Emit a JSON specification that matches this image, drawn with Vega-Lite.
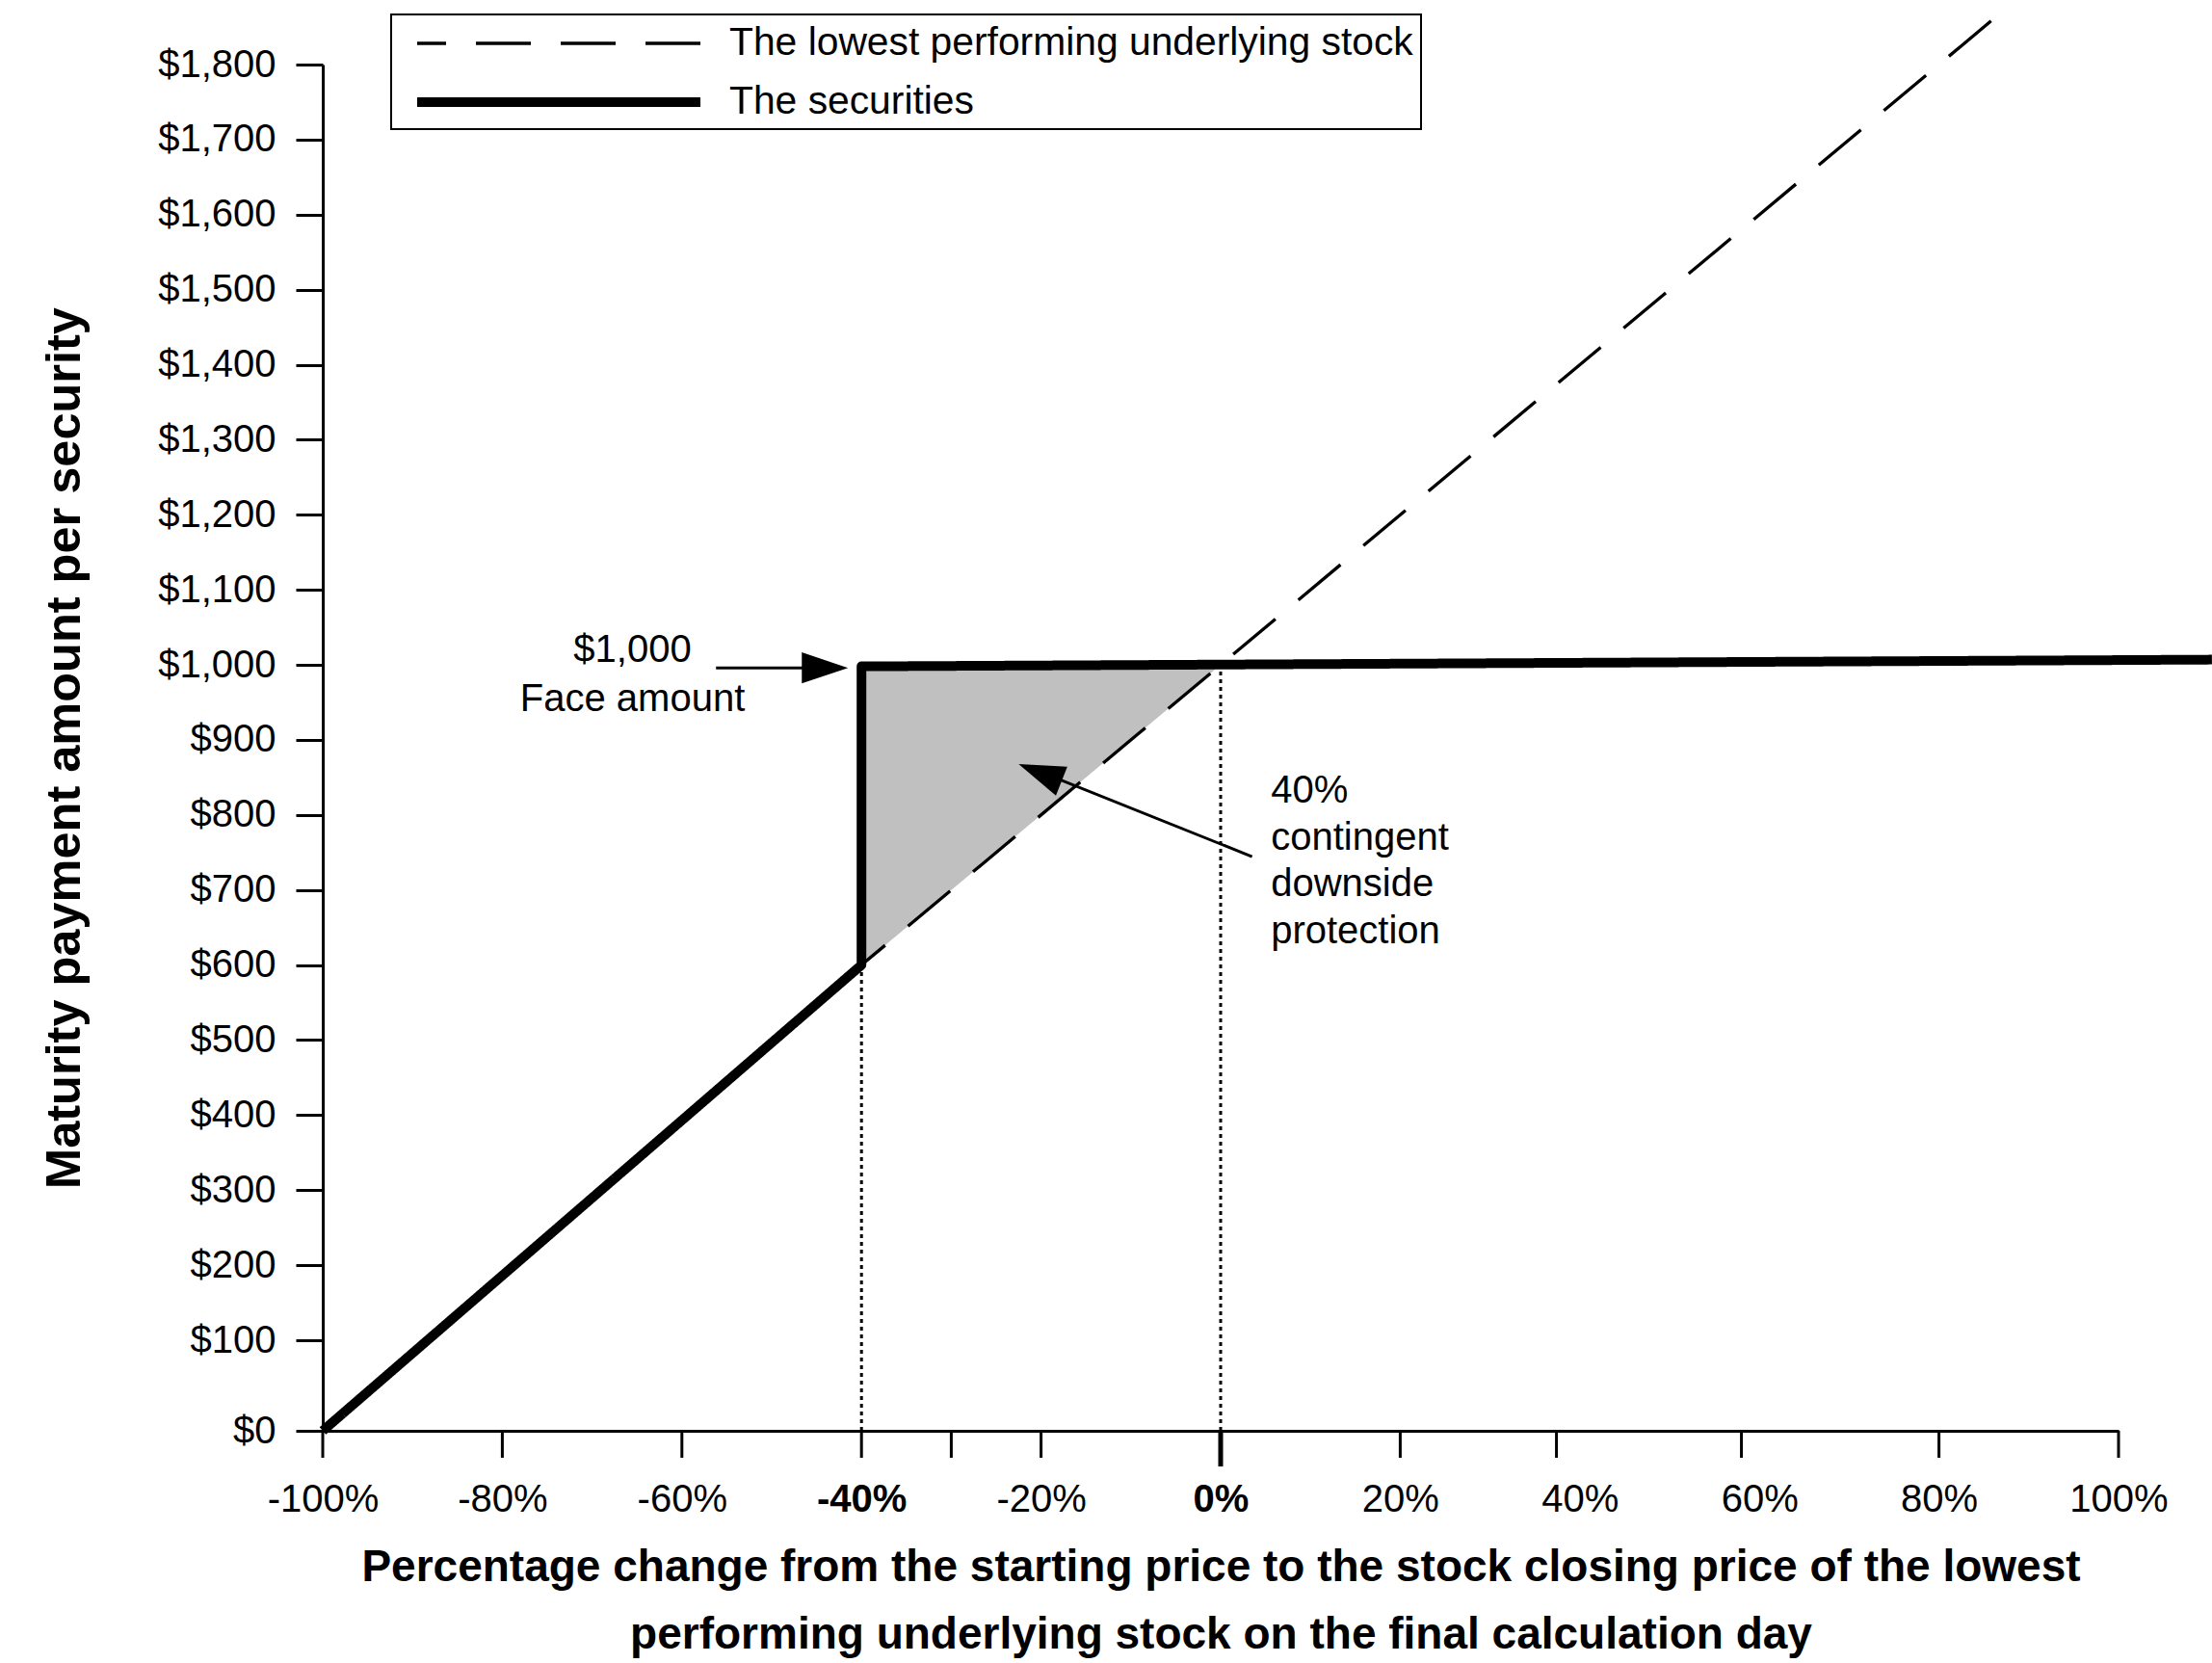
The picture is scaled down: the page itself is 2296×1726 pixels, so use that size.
{
  "$schema": "https://vega.github.io/schema/vega-lite/v6.json",
  "width": 1864,
  "height": 1418,
  "autosize": {"type": "none"},
  "padding": {"left": 335, "top": 67, "right": 97, "bottom": 241},
  "background": "white",
  "config": {
    "view": {"stroke": null},
    "font": "Liberation Sans",
    "axis": {"labelFont": "Liberation Sans", "titleFont": "Liberation Sans", "labelColor": "black", "titleColor": "black", "domainColor": "black", "tickColor": "black", "grid": false},
    "legend": {"labelFont": "Liberation Sans", "strokeWidth": 2}
  },
  "datasets": {
    "protection": [
      {"pct": -40, "value": 600, "value2": 998},
      {"pct": 0, "value": 1000, "value2": 1000}
    ],
    "guides": [
      {"pct": -40, "value": 0, "value2": 600},
      {"pct": 0, "value": 0, "value2": 1000}
    ],
    "lowest": [
      {"series": "The lowest performing underlying stock", "pct": -100, "value": 0, "seq": 1},
      {"series": "The lowest performing underlying stock", "pct": -40, "value": 600, "seq": 2},
      {"series": "The lowest performing underlying stock", "pct": 85.8, "value": 1858, "seq": 3}
    ],
    "securities": [
      {"series": "The securities", "pct": -100, "value": 0, "seq": 1},
      {"series": "The securities", "pct": -40, "value": 600, "seq": 2},
      {"series": "The securities", "pct": -40, "value": 998, "seq": 3},
      {"series": "The securities", "pct": 110.4, "value": 1007, "seq": 4}
    ],
    "xticks": [
      {"pct": -100, "value": 0}, {"pct": -80, "value": 0}, {"pct": -60, "value": 0}, {"pct": -40, "value": 0},
      {"pct": -30, "value": 0}, {"pct": -20, "value": 0}, {"pct": 20, "value": 0}, {"pct": 37.4, "value": 0},
      {"pct": 58, "value": 0}, {"pct": 80, "value": 0}, {"pct": 100, "value": 0}
    ],
    "zeroTick": [{"pct": 0, "value": 0}],
    "arrowLines": [
      {"pct": -56.2, "value": 996, "pct2": -44, "value2": 996},
      {"pct": 3.5, "value": 744.5, "pct2": -20, "value2": 857}
    ],
    "arrowHeads": [
      {"arrow": "face", "pct": -41.5, "value": 996},
      {"arrow": "protection", "pct": -22.5, "value": 867.8}
    ],
    "notes": [
      {"note": "face", "pct": -65.5, "value": 1004, "text": "$1,000"},
      {"note": "face", "pct": -65.5, "value": 938, "text": "Face amount"},
      {"note": "protection", "pct": 5.6, "value": 816, "text": "40%"},
      {"note": "protection", "pct": 5.6, "value": 753.5, "text": "contingent"},
      {"note": "protection", "pct": 5.6, "value": 692, "text": "downside"},
      {"note": "protection", "pct": 5.6, "value": 629, "text": "protection"}
    ]
  },
  "encoding": {
    "x": {
      "field": "pct",
      "type": "quantitative",
      "scale": {"domain": [-100, 100], "nice": false, "zero": false},
      "axis": {
        "values": [-100, -80, -60, -40, -20, 0, 20, 40, 60, 80, 100],
        "labelExpr": "datum.value + '%'",
        "labelFontSize": 40,
        "labelPadding": 23,
        "tickSize": 28,
        "tickOpacity": 0,
        "domainWidth": 3,
        "labelFlush": false,
        "labelOverlap": false,
        "labelFontWeight": {"condition": {"test": "datum.value === -40 || datum.value === 0", "value": "bold"}, "value": "normal"},
        "title": ["Percentage change from the starting price to the stock closing price of the lowest", "performing underlying stock on the final calculation day"],
        "titleFontSize": 46,
        "titleFontWeight": "bold",
        "titleAlign": "center",
        "titleBaseline": "alphabetic",
        "titleX": 932,
        "titleY": 155,
        "titleLineHeight": 70
      }
    },
    "y": {
      "field": "value",
      "type": "quantitative",
      "scale": {"domain": [0, 100, 1800], "range": [1418, 1324, 0], "nice": false, "zero": false},
      "axis": {
        "values": [0, 100, 200, 300, 400, 500, 600, 700, 800, 900, 1000, 1100, 1200, 1300, 1400, 1500, 1600, 1700, 1800],
        "format": "$,.0f",
        "labelFontSize": 40,
        "labelPadding": 21,
        "tickSize": 28,
        "tickWidth": 3,
        "domainWidth": 3,
        "labelOverlap": false,
        "title": "Maturity payment amount per security",
        "titleFontSize": 50.5,
        "titleFontWeight": "bold",
        "titleAngle": 270,
        "titleAlign": "center",
        "titleBaseline": "alphabetic",
        "titleX": -253,
        "titleY": 709
      }
    }
  },
  "layer": [
    {
      "data": {"name": "protection"},
      "mark": {"type": "area", "color": "#c0c0c0", "opacity": 1},
      "encoding": {"y2": {"field": "value2"}}
    },
    {
      "data": {"name": "guides"},
      "mark": {"type": "rule", "color": "black", "strokeWidth": 3, "strokeDash": [4, 4]},
      "encoding": {"y2": {"field": "value2"}}
    },
    {
      "encoding": {
        "strokeDash": {
          "field": "series",
          "type": "ordinal",
          "scale": {"domain": ["The lowest performing underlying stock", "The securities"], "range": [[57, 31], [1, 0]]},
          "legend": {
            "orient": "none", "legendX": 71, "legendY": -52, "title": null,
            "symbolType": "M-0.3,0H14.4", "symbolSize": 1600, "symbolStrokeColor": "black", "symbolDashOffset": 27,
            "symbolOffset": 0, "labelFontSize": 40.8, "labelColor": "black", "labelOffset": 293, "labelLimit": 2000,
            "rowPadding": 16, "padding": 8, "strokeColor": "black", "fillColor": "white"
          }
        },
        "strokeWidth": {
          "field": "series",
          "type": "ordinal",
          "scale": {"domain": ["The lowest performing underlying stock", "The securities"], "range": [3.3, 10]},
          "legend": {
            "orient": "none", "legendX": 71, "legendY": -52, "title": null,
            "symbolType": "M-0.3,0H14.4", "symbolSize": 1600, "symbolStrokeColor": "black", "symbolDashOffset": 27,
            "symbolOffset": 0, "labelFontSize": 40.8, "labelColor": "black", "labelOffset": 293, "labelLimit": 2000,
            "rowPadding": 16, "padding": 8, "strokeColor": "black", "fillColor": "white"
          }
        }
      },
      "layer": [
        {
          "data": {"name": "lowest"},
          "mark": {"type": "line", "color": "black", "strokeCap": "butt"},
          "encoding": {"order": {"field": "seq", "type": "quantitative", "sort": "descending"}}
        },
        {
          "data": {"name": "securities"},
          "mark": {"type": "line", "color": "black", "strokeCap": "butt", "strokeJoin": "round"},
          "encoding": {"order": {"field": "seq", "type": "quantitative"}}
        }
      ]
    },
    {
      "data": {"name": "xticks"},
      "mark": {"type": "point", "shape": "M0,0V2", "size": 784, "filled": false, "opacity": 1, "color": "black", "strokeWidth": 3, "strokeCap": "butt"}
    },
    {
      "data": {"name": "zeroTick"},
      "mark": {"type": "point", "shape": "M0,0V2", "size": 1369, "filled": false, "opacity": 1, "color": "black", "strokeWidth": 5, "strokeCap": "butt"}
    },
    {
      "data": {"name": "arrowLines"},
      "mark": {"type": "rule", "color": "black", "strokeWidth": 3},
      "encoding": {"x2": {"field": "pct2"}, "y2": {"field": "value2"}}
    },
    {
      "data": {"name": "arrowHeads"},
      "transform": [{"filter": "datum.arrow === 'face'"}],
      "mark": {"type": "point", "shape": "M0,0L-2,-0.67L-2,0.67Z", "size": 2304, "filled": true, "opacity": 1, "color": "black", "angle": 0}
    },
    {
      "data": {"name": "arrowHeads"},
      "transform": [{"filter": "datum.arrow === 'protection'"}],
      "mark": {"type": "point", "shape": "M0,0L-2,-0.67L-2,0.67Z", "size": 2304, "filled": true, "opacity": 1, "color": "black", "angle": 201.6}
    },
    {
      "data": {"name": "notes"},
      "transform": [{"filter": "datum.note === 'face'"}],
      "mark": {"type": "text", "align": "center", "baseline": "alphabetic", "fontSize": 40, "font": "Liberation Sans", "color": "black"},
      "encoding": {"text": {"field": "text"}}
    },
    {
      "data": {"name": "notes"},
      "transform": [{"filter": "datum.note === 'protection'"}],
      "mark": {"type": "text", "align": "left", "baseline": "alphabetic", "fontSize": 40, "font": "Liberation Sans", "color": "black"},
      "encoding": {"text": {"field": "text"}}
    }
  ]
}
